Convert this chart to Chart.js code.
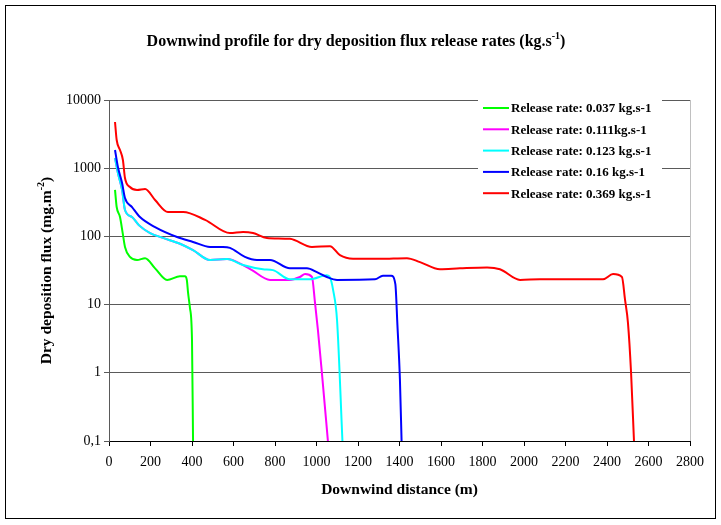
<!DOCTYPE html>
<html>
<head>
<meta charset="utf-8">
<script src="https://cdn.jsdelivr.net/npm/chart.js@4/dist/chart.umd.min.js"></script>
<style>
body { margin: 0; background: #fff; }
</style>
</head>
<body>
<canvas id="grafico" width="721" height="525"></canvas>
<script>
// DADOS
var seriesLabels = [
  'Release rate: 0.037 kg.s-1',
  'Release rate: 0.111kg.s-1',
  'Release rate: 0.123 kg.s-1',
  'Release rate: 0.16 kg.s-1',
  'Release rate: 0.369 kg.s-1'
];

var distGreen = [29, 37, 53, 66, 77, 101, 135, 174, 222, 280, 342, 366, 375, 381, 390, 400, 405];
var fluxGreen = [480, 270, 192, 112, 70, 50, 45, 48, 34, 23, 26, 26, 23, 15, 9, 3, 0.1];

var distMagenta = [29, 43, 63, 77, 111, 145, 198, 260, 342, 405, 487, 569, 646, 689, 776, 872, 920, 945, 978, 993, 1007, 1026, 1055];
var fluxMagenta = [1410, 850, 480, 244, 192, 145, 112, 95, 78, 63, 45, 46.5, 38, 32, 23, 23, 25.4, 28, 25.4, 10.5, 4.2, 1, 0.1];

var distCyan = [29, 43, 63, 77, 111, 145, 198, 260, 342, 405, 487, 569, 646, 742, 790, 872, 969, 1050, 1065, 1080, 1099, 1125];
var fluxCyan = [1410, 850, 480, 244, 192, 145, 112, 95, 78, 63, 45, 46.5, 38, 33, 32, 23.5, 23.5, 27, 25, 16.4, 5.9, 0.1];

var distBlue = [29, 43, 63, 77, 111, 149, 222, 328, 405, 487, 549, 583, 655, 713, 776, 872, 954, 1002, 1050, 1099, 1282, 1320, 1360, 1380, 1390, 1402, 1410];
var fluxBlue = [1850, 1040, 606, 366, 269, 192, 137, 98, 83, 70, 70, 68, 50, 45, 45, 34, 34, 30, 25.4, 23, 23.5, 26.5, 26.5, 20, 5, 0.8, 0.1];

var distRed = [29, 37, 53, 67, 77, 101, 135, 174, 222, 284, 357, 463, 583, 646, 694, 761, 872, 978, 1065, 1113, 1176, 1306, 1436, 1499, 1595, 1691, 1822, 1884, 1981, 2077, 2381, 2429, 2472, 2487, 2501, 2516, 2530];
var fluxRed = [4760, 2590, 1850, 1320, 717, 530, 479, 495, 342, 228, 228, 175, 112, 116, 112, 95, 92, 70, 72, 53, 47, 47, 48, 42, 33, 34, 35, 33, 23, 23.5, 23.5, 28, 25.4, 11.7, 5.4, 1.0, 0.1];

var yTickValues = [0.1, 1, 10, 100, 1000, 10000];
var yTickLabels = ['0,1', '1', '10', '100', '1000', '10000'];

var cores = ['#00ff00', '#ff00ff', '#00ffff', '#0000ff', '#ff0000'];
var distAll = [distGreen, distMagenta, distCyan, distBlue, distRed];
var fluxAll = [fluxGreen, fluxMagenta, fluxCyan, fluxBlue, fluxRed];

var serif = "'Liberation Serif', 'Times New Roman', serif";

function pontos(xs, ys) {
  return xs.map(function (x, i) { return { x: x, y: ys[i] }; });
}

var datasets = seriesLabels.map(function (lab, i) {
  return {
    label: lab,
    data: pontos(distAll[i], fluxAll[i]),
    borderColor: cores[i],
    backgroundColor: cores[i],
    borderWidth: 2,
    pointRadius: 0,
    cubicInterpolationMode: 'monotone',
    order: 5 - i
  };
});

// texto com expoente
function textoSup(ctx, base, sup, fim, x, y, size) {
  ctx.font = 'bold ' + size + 'px ' + serif;
  var w1 = ctx.measureText(base).width;
  var w3 = ctx.measureText(fim).width;
  ctx.font = 'bold ' + Math.round(size * 0.65) + 'px ' + serif;
  var w2 = ctx.measureText(sup).width;
  var start = x - (w1 + w2 + w3) / 2;
  ctx.textAlign = 'left';
  ctx.textBaseline = 'alphabetic';
  ctx.font = 'bold ' + size + 'px ' + serif;
  ctx.fillText(base, start, y);
  ctx.font = 'bold ' + Math.round(size * 0.65) + 'px ' + serif;
  ctx.fillText(sup, start + w1, y - size * 0.42);
  ctx.font = 'bold ' + size + 'px ' + serif;
  ctx.fillText(fim, start + w1 + w2, y);
}

var extras = {
  id: 'extras',
  afterDatasetsDraw: function (chart) {
    var ctx = chart.ctx;
    var a = chart.chartArea;
    ctx.save();
    // borda direita da area
    ctx.strokeStyle = '#c0c0c0';
    ctx.lineWidth = 1;
    ctx.beginPath();
    ctx.moveTo(a.right + 0.5, a.top);
    ctx.lineTo(a.right + 0.5, a.bottom);
    ctx.stroke();

    // legenda
    ctx.fillStyle = '#fff';
    ctx.fillRect(478, 97, 184, 106);
    ctx.font = 'bold 13px ' + serif;
    ctx.textBaseline = 'middle';
    ctx.textAlign = 'left';
    chart.data.datasets.forEach(function (ds, i) {
      var y = 108 + i * 21.3;
      ctx.strokeStyle = ds.borderColor;
      ctx.lineWidth = 2;
      ctx.beginPath();
      ctx.moveTo(483, y);
      ctx.lineTo(509, y);
      ctx.stroke();
      ctx.fillStyle = '#000';
      ctx.fillText(ds.label, 511, y + 1);
    });
    ctx.restore();
  },
  afterDraw: function (chart) {
    var ctx = chart.ctx;
    var a = chart.chartArea;
    ctx.save();
    ctx.fillStyle = '#000';
    textoSup(ctx, 'Downwind profile for dry deposition flux release rates (kg.s', '-1', ')', 356, 46, 16);
    ctx.translate(51, (a.top + a.bottom) / 2);
    ctx.rotate(-Math.PI / 2);
    textoSup(ctx, 'Dry deposition flux (mg.m', '-2', ')', 0, 0, 15.5);
    ctx.restore();
    ctx.save();
    ctx.strokeStyle = '#000';
    ctx.lineWidth = 1;
    ctx.strokeRect(5.5, 5.5, 710, 513);
    ctx.restore();
  }
};

// GRÁFICO
new Chart(document.getElementById('grafico'), {
  type: 'line',
  data: { datasets: datasets },
  plugins: [extras],
  options: {
    responsive: false,
    animation: false,
    layout: { padding: { left: 0, right: 31, top: 100, bottom: 0 } },
    plugins: {
      legend: { display: false },
      tooltip: { enabled: false }
    },
    scales: {
      x: {
        type: 'linear',
        min: 0,
        max: 2800,
        afterFit: function (s) { s.height = 84; },
        ticks: {
          stepSize: 200,
          maxRotation: 0,
          autoSkip: false,
          padding: 8,
          color: '#000',
          font: { family: serif, size: 14 },
          callback: function (v) { return String(v); }
        },
        grid: { drawOnChartArea: false, tickLength: 5, color: '#000' },
        border: { color: '#000', width: 1 },
        title: {
          display: true,
          text: 'Downwind distance (m)',
          color: '#000',
          font: { family: serif, size: 15.5, weight: 'bold' },
          padding: { top: 0, bottom: 26 }
        }
      },
      y: {
        type: 'logarithmic',
        min: 0.1,
        max: 10000,
        afterFit: function (s) { s.width = 109; },
        afterBuildTicks: function (s) {
          s.ticks = yTickValues.map(function (v) { return { value: v }; });
        },
        ticks: {
          padding: 3,
          color: '#000',
          font: { family: serif, size: 14 },
          callback: function (v) {
            var k = yTickValues.indexOf(v);
            return k >= 0 ? yTickLabels[k] : '';
          }
        },
        grid: { color: '#5a5a5a', tickLength: 5 },
        border: { color: '#5a5a5a', width: 1 }
      }
    }
  }
});
</script>
</body>
</html>
